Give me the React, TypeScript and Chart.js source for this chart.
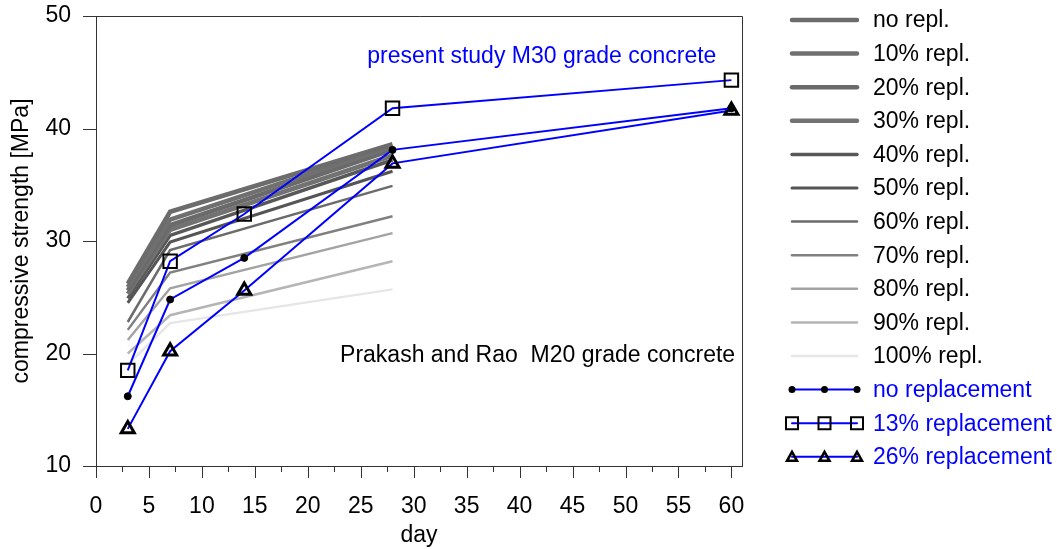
import React, { useEffect, useRef } from 'react';
import { Chart, registerables } from 'chart.js';

Chart.register(...registerables);

const FONT = '"Liberation Sans", Arial, Helvetica, sans-serif';
const FS = 23;

// Grey reference curves (Prakash and Rao, M20)
const greyDays = [3, 7, 28];
const greyLabels = ['no repl.', '10% repl.', '20% repl.', '30% repl.', '40% repl.', '50% repl.', '60% repl.', '70% repl.', '80% repl.', '90% repl.', '100% repl.'];
const greyNo = [26.2, 32.6, 38.6];
const grey10 = [25.9, 31.9, 38.4];
const grey20 = [25.6, 31.4, 38.1];
const grey30 = [25.3, 31.0, 37.6];
const grey40 = [24.9, 30.5, 37.2];
const grey50 = [24.5, 29.9, 36.2];
const grey60 = [22.8, 29.2, 34.9];
const grey70 = [22.1, 27.2, 32.2];
const grey80 = [21.2, 25.8, 30.7];
const grey90 = [20.0, 23.4, 28.2];
const grey100 = [19.0, 22.7, 25.7];
const greyValues = [greyNo, grey10, grey20, grey30, grey40, grey50, grey60, grey70, grey80, grey90, grey100];
const greyColors = ['#6c6c6c', '#707070', '#6a6a6a', '#727272', '#585858', '#555555', '#6b6b6b', '#808080', '#a3a3a3', '#b5b5b5', '#e6e6e6'];
const greyWidths = [4.5, 4.5, 4.5, 4.5, 3.5, 3, 2.5, 2.5, 2.5, 2.5, 2.5];

// Present study (M30)
const blueDays = [3, 7, 14, 28, 60];
const blueLabels = ['no replacement', '13% replacement', '26% replacement'];
const noReplacement = [16.2, 24.8, 28.5, 38.1, 41.8];
const replacement13 = [18.5, 28.2, 32.4, 41.8, 44.3];
const replacement26 = [13.3, 20.2, 25.6, 36.9, 41.6];
const blueValues = [noReplacement, replacement13, replacement26];
const blueStyles = ['circle', 'rect', 'triangle'];
const blueRadii = [3.5, 9.5, 7.5];
const blueBorderWidths = [1, 2, 3];
const blueFills = ['#000000', 'rgba(0,0,0,0)', 'rgba(0,0,0,0)'];

const xTicks = [0, 5, 10, 15, 20, 25, 30, 35, 40, 45, 50, 55, 60];
const yTicks = [10, 20, 30, 40, 50];

const BLUE = '#0000ff';

const frameTicksPlugin = {
  id: 'frameTicks',
  afterDraw(chart: any) {
    const { ctx, chartArea } = chart;
    const xs = chart.scales.x;
    const ys = chart.scales.y;
    ctx.save();
    ctx.strokeStyle = '#333333';
    ctx.lineWidth = 1;
    ctx.beginPath();
    ctx.moveTo(chartArea.left, chartArea.top + 0.5);
    ctx.lineTo(chartArea.right + 0.5, chartArea.top + 0.5);
    ctx.lineTo(chartArea.right + 0.5, chartArea.bottom);
    ctx.stroke();
    ctx.beginPath();
    yTicks.forEach((v) => {
      const y = Math.round(ys.getPixelForValue(v)) + 0.5;
      ctx.moveTo(chartArea.left - 13, y);
      ctx.lineTo(chartArea.left, y);
    });
    for (let v = 0; v <= 60; v += 2.5) {
      const x = Math.round(xs.getPixelForValue(v)) + 0.5;
      const major = v % 5 === 0;
      ctx.moveTo(x, chartArea.bottom);
      ctx.lineTo(x, chartArea.bottom + (major ? 12 : 6));
    }
    ctx.stroke();
    ctx.restore();
  },
};

const notesPlugin = {
  id: 'notes',
  afterDatasetsDraw(chart: any) {
    const { ctx } = chart;
    const xs = chart.scales.x;
    const ys = chart.scales.y;
    ctx.save();
    ctx.font = `${FS}px ${FONT}`;
    ctx.textBaseline = 'middle';
    ctx.textAlign = 'center';
    ctx.fillStyle = BLUE;
    ctx.fillText('present study M30 grade concrete', xs.getPixelForValue(42.1), ys.getPixelForValue(46.35));
    ctx.textAlign = 'right';
    ctx.fillStyle = '#000000';
    ctx.fillText('Prakash and Rao  M20 grade concrete', xs.getPixelForValue(60.35), ys.getPixelForValue(19.8));
    ctx.restore();
  },
};

const legendPlugin = {
  id: 'sideLegend',
  afterDraw(chart: any) {
    const { ctx, chartArea } = chart;
    const x0 = chartArea.right + 50;
    const x1 = chartArea.right + 115;
    const tx = chartArea.right + 131;
    const step = 33.6;
    const top = chartArea.top + 4;
    ctx.save();
    ctx.font = `${FS}px ${FONT}`;
    ctx.textBaseline = 'middle';
    ctx.textAlign = 'left';
    chart.data.datasets.forEach((ds: any, i: number) => {
      const y = top + i * step;
      ctx.beginPath();
      ctx.strokeStyle = ds.borderColor;
      ctx.lineWidth = ds.isBlue ? 2 : ds.borderWidth;
      ctx.lineCap = 'round';
      ctx.moveTo(x0, y);
      ctx.lineTo(x1, y);
      ctx.stroke();
      if (ds.isBlue) {
        const xm = [x0, (x0 + x1) / 2, x1];
        xm.forEach((px) => {
          ctx.beginPath();
          ctx.strokeStyle = '#000000';
          ctx.fillStyle = '#000000';
          if (ds.pointStyle === 'circle') {
            ctx.arc(px, y, 3.5, 0, Math.PI * 2);
            ctx.fill();
          } else if (ds.pointStyle === 'rect') {
            ctx.lineWidth = 2;
            ctx.rect(px - 6, y - 6, 12, 12);
            ctx.stroke();
          } else {
            ctx.lineWidth = 2.5;
            ctx.lineJoin = 'miter';
            ctx.moveTo(px, y - 5);
            ctx.lineTo(px + 5, y + 4);
            ctx.lineTo(px - 5, y + 4);
            ctx.closePath();
            ctx.stroke();
          }
        });
      }
      ctx.fillStyle = ds.isBlue ? BLUE : '#000000';
      ctx.fillText(ds.label, tx, y + 1);
    });
    ctx.restore();
  },
};

export default function App() {
  const canvasRef = useRef<HTMLCanvasElement | null>(null);

  useEffect(() => {
    if (!canvasRef.current) return;
    const greySets = greyLabels.map((label, i) => ({
      label,
      data: greyDays.map((d, j) => ({ x: d, y: greyValues[i][j] })),
      borderColor: greyColors[i],
      backgroundColor: greyColors[i],
      borderWidth: greyWidths[i],
      pointRadius: 0,
      tension: 0,
      order: 1,
      isBlue: false,
    }));
    const blueSets = blueLabels.map((label, i) => ({
      label,
      data: blueDays.map((d, j) => ({ x: d, y: blueValues[i][j] })),
      borderColor: BLUE,
      backgroundColor: BLUE,
      borderWidth: 2,
      pointStyle: blueStyles[i],
      pointRadius: blueRadii[i],
      pointBorderColor: '#000000',
      pointBackgroundColor: blueFills[i],
      pointBorderWidth: blueBorderWidths[i],
      tension: 0,
      order: 0,
      isBlue: true,
    }));

    const chart = new Chart(canvasRef.current, {
      type: 'line',
      data: { datasets: [...greySets, ...blueSets] as any },
      options: {
        animation: false,
        responsive: true,
        maintainAspectRatio: false,
        layout: { padding: { top: 16, right: 315, left: 0, bottom: 0 } },
        plugins: { legend: { display: false }, tooltip: { enabled: false } },
        scales: {
          x: {
            type: 'linear',
            min: 0,
            max: 61,
            afterBuildTicks: (scale: any) => {
              scale.ticks = xTicks.map((v) => ({ value: v }));
            },
            afterFit: (scale: any) => {
              scale.height = 83;
              scale.paddingLeft = 0;
              scale.paddingRight = 0;
            },
            grid: { display: true, drawOnChartArea: false, drawTicks: false },
            border: { display: true, color: '#333333', width: 1 },
            ticks: { color: '#000000', font: { family: FONT, size: FS }, padding: 27, maxRotation: 0, autoSkip: false },
            title: { display: true, text: 'day', color: '#000000', font: { family: FONT, size: FS }, padding: { top: 0, bottom: 0 } },
          },
          y: {
            type: 'linear',
            min: 10,
            max: 50,
            afterBuildTicks: (scale: any) => {
              scale.ticks = yTicks.map((v) => ({ value: v }));
            },
            afterFit: (scale: any) => {
              scale.width = 96;
              scale.paddingTop = 0;
              scale.paddingBottom = 0;
            },
            grid: { display: true, drawOnChartArea: false, drawTicks: false },
            border: { display: true, color: '#333333', width: 1 },
            ticks: { color: '#000000', font: { family: FONT, size: FS }, padding: 25 },
            title: { display: true, text: 'compressive strength [MPa]', color: '#000000', font: { family: FONT, size: FS }, padding: { top: 8, bottom: 0 } },
          },
        },
      } as any,
      plugins: [frameTicksPlugin, notesPlugin, legendPlugin],
    });
    return () => chart.destroy();
  }, []);

  return (
    <div style={{ position: 'fixed', left: 0, top: 0, width: 1057, height: 549, background: '#ffffff' }}>
      <canvas ref={canvasRef} />
    </div>
  );
}
